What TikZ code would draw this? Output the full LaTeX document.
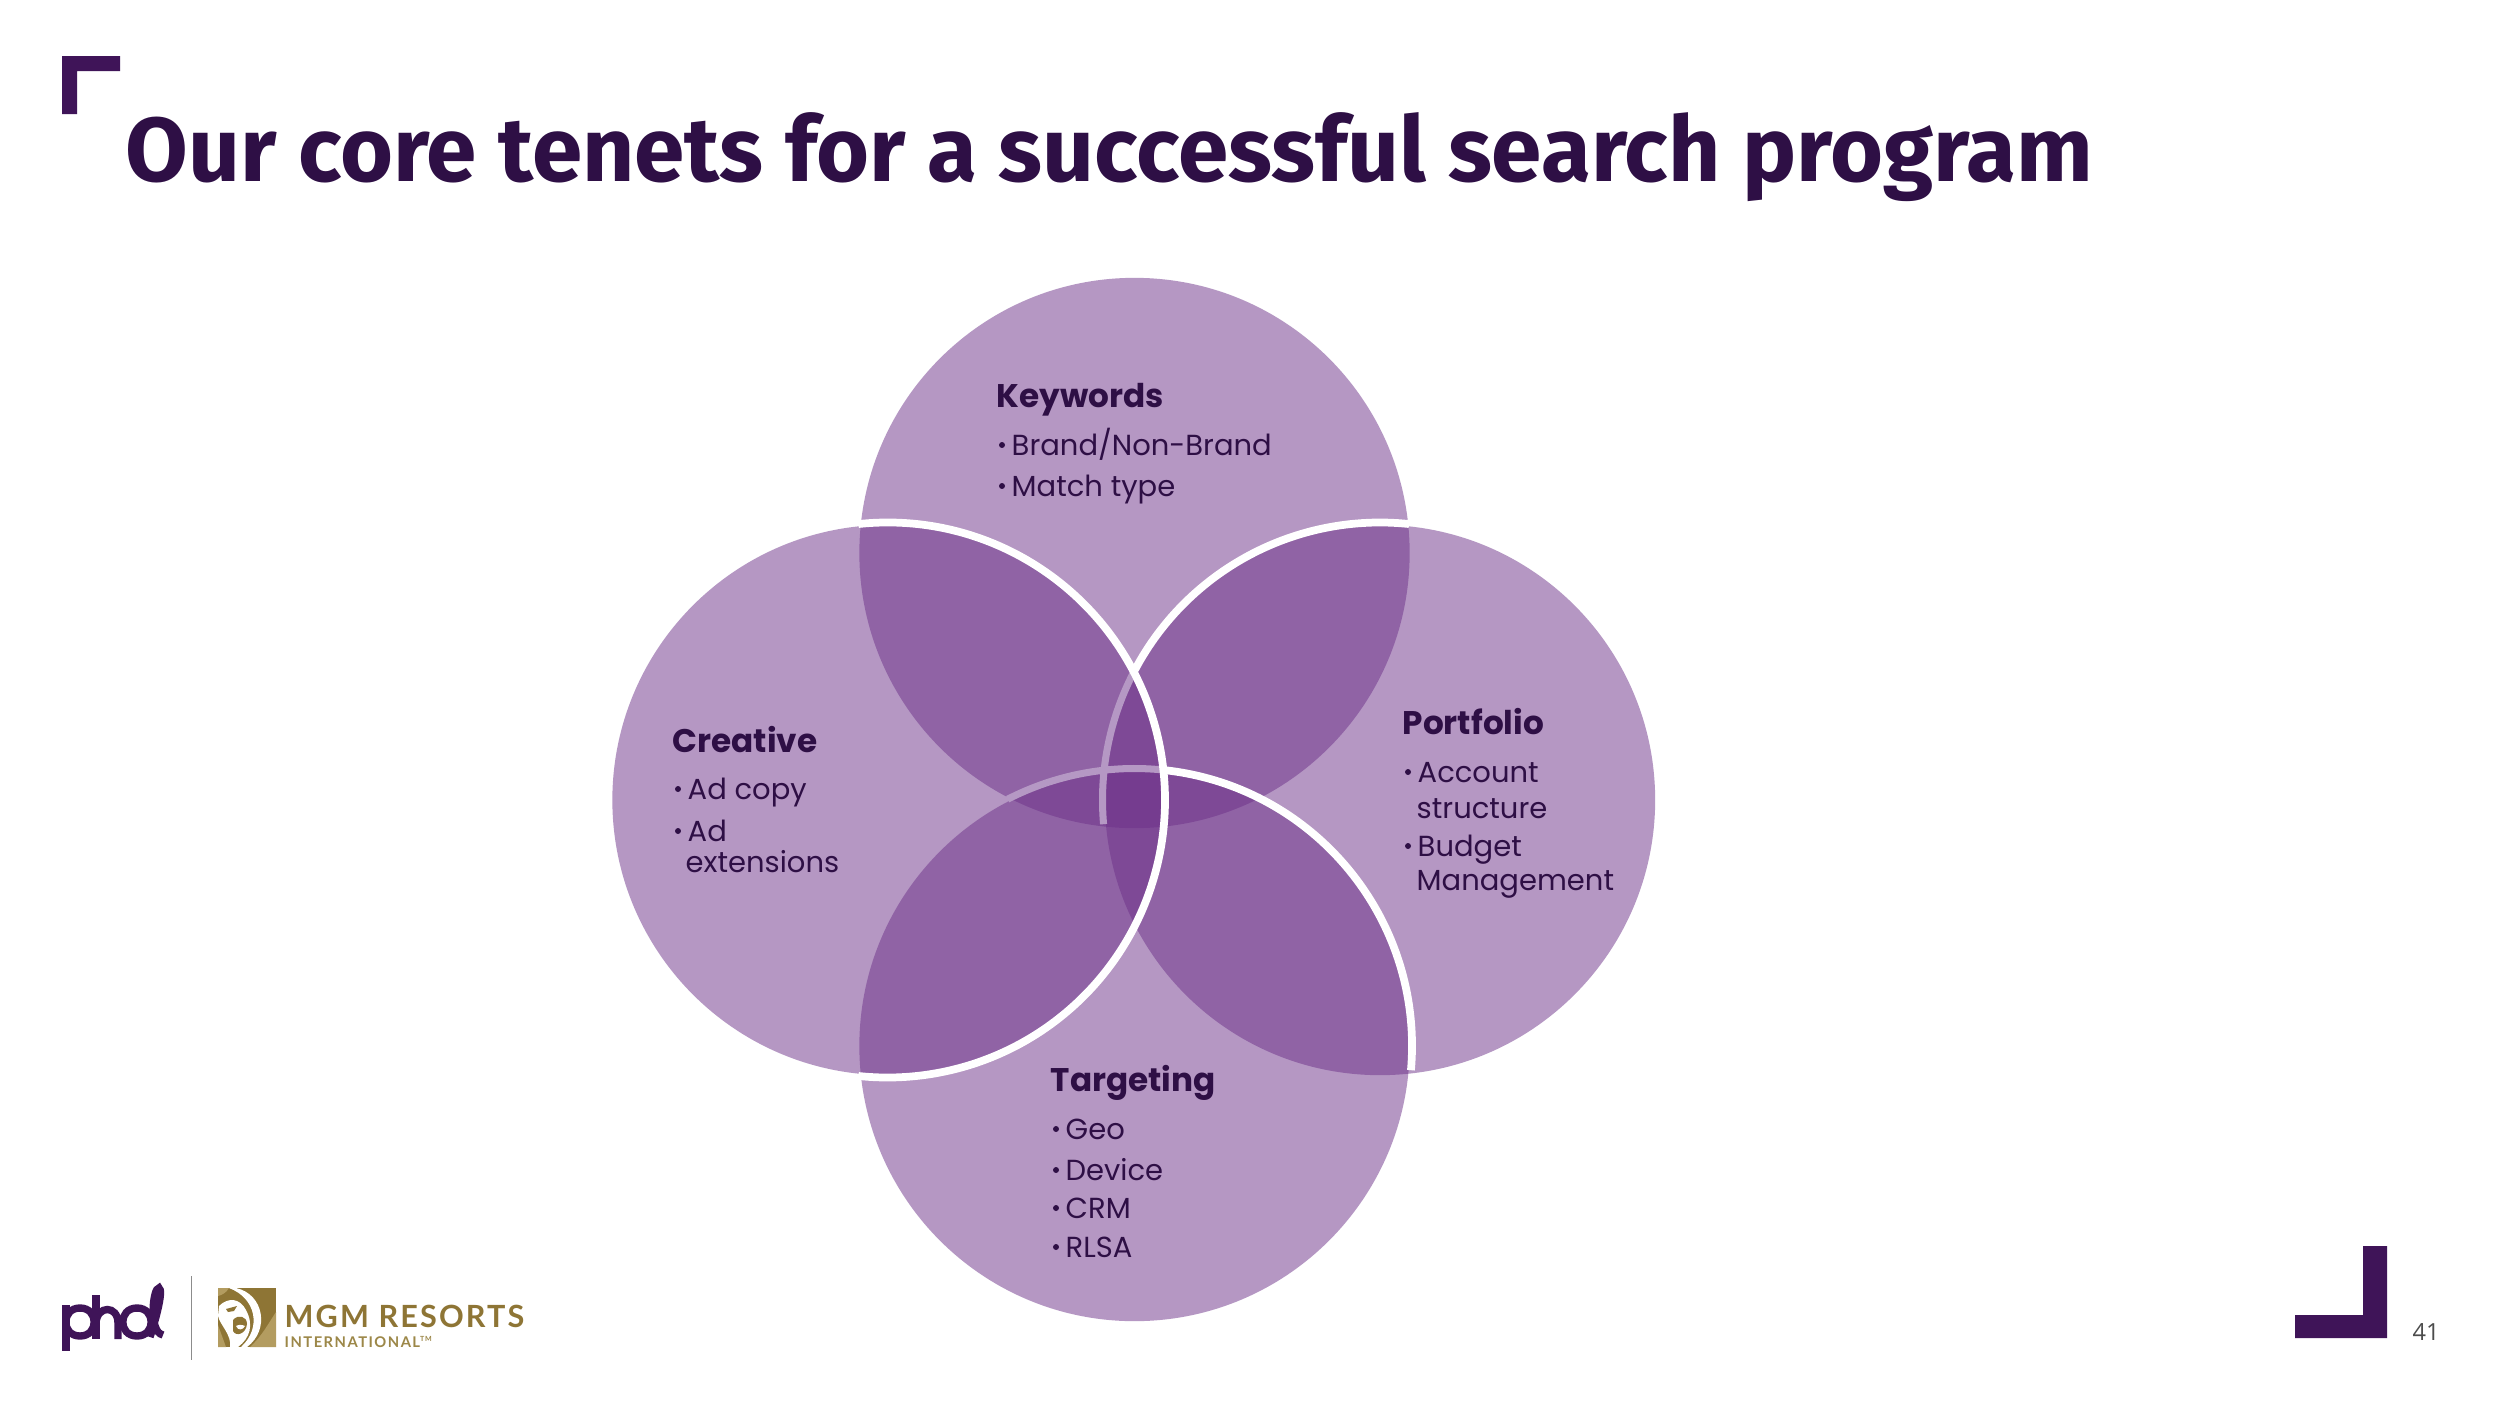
\documentclass[tikz,border=0pt]{standalone}
\usepackage{fontspec}
\setmainfont{Poppins}
\newfontfamily\titlefont{Fira Sans}
\newfontfamily\numfont{Open Sans}
\newfontfamily\mgmfont{Lato}[LetterSpace=7]
\newfontfamily\intlfont{Lato}[LetterSpace=10]
\definecolor{ink}{HTML}{2E0F45}
\definecolor{brand}{HTML}{3F1458}
\definecolor{venn}{RGB}{109,49,137}
\definecolor{lightvenn}{HTML}{B598C4}
\definecolor{gold}{HTML}{8E7535}
\definecolor{goldlight}{HTML}{B39C60}
\definecolor{goldtext}{HTML}{9C8748}
\tikzset{
  vennc/.style={circle,minimum size=5.5cm,inner sep=0pt,fill=venn,fill opacity=0.5,draw=none},
  ringw/.style={draw=white,line width=2.2pt},
  ringl/.style={draw=lightvenn,line width=2pt},
  head/.style={anchor=base west,inner sep=0pt,font=\fontsize{9.3}{12}\selectfont\bfseries,text=ink},
  item/.style={anchor=base west,inner sep=0pt,font=\fontsize{8.25}{11}\selectfont,text=ink},
  dot/.style={circle,fill=ink,minimum size=1.7pt,inner sep=0pt},
}
\begin{document}
\begin{tikzpicture}[x=0.01cm,y=-0.01cm]
\useasboundingbox (0,0) rectangle (2500,1406);
\fill[white] (0,0) rectangle (2500,1406);
% circles
\node[vennc] (top) at (1134.5,553) {};
\node[vennc] (left) at (887.5,800) {};
\node[vennc] (right) at (1380,800) {};
\node[vennc] (bottom) at (1134.5,1046) {};
% strokes
\draw[ringl] ([shift={(208:277.5)}]right.center) arc[start angle=208,end angle=175,radius=277.5];
\draw[ringl] ([shift={(242.8:277.5)}]bottom.center) arc[start angle=242.8,end angle=276,radius=277.5];
\draw[ringw] ([shift={(208:277.5)}]right.center) arc[start angle=208,end angle=276,radius=277.5];
\draw[ringw] ([shift={(275.7:277.5)}]bottom.center) arc[start angle=275.7,end angle=365,radius=277.5];
\draw[ringw] ([shift={(-96:277.5)}]left.center) arc[start angle=-96,end angle=96,radius=277.5];
% title
\node[anchor=base west,inner sep=0pt,text=ink,font=\titlefont\fontsize{25.83}{30}\selectfont\bfseries] (title) at (125,181) {Our core tenets for a successful search program};
% brackets
\fill[brand] (62,56) -- (120,56) -- (120,71) -- (77,71) -- (77,114) -- (62,114) -- cycle;
\fill[brand] (2387,1246) -- (2387,1338) -- (2295,1338) -- (2295,1315) -- (2363,1315) -- (2363,1246) -- cycle;
\node[anchor=base west,inner sep=0pt,text=black!70,font=\numfont\fontsize{6.7}{7}\selectfont] (page) at (2412,1340) {41};
% Keywords
\node[head] (kw) at (996,407) {Keywords};
\node[dot] (kwd1) at (1002,445) {}; \node[item] (kw1) at (1011,455) {Brand/Non-Brand};
\node[dot] (kwd2) at (1002,486) {}; \node[item] (kw2) at (1011,496) {Match type};
% Creative
\node[head] (cr) at (672,752) {Creative};
\node[dot] (crd1) at (678,789) {}; \node[item] (cr1) at (687,799) {Ad copy};
\node[dot] (crd2) at (678,831) {}; \node[item] (cr2) at (687,841) {Ad};
\node[item] (cr3) at (685,872) {extensions};
% Portfolio
\node[head] (pf) at (1402,734) {Portfolio};
\node[dot] (pfd1) at (1408,772) {}; \node[item] (pf1) at (1417,782) {Account};
\node[item] (pf2) at (1416,818) {structure};
\node[dot] (pfd2) at (1408,846) {}; \node[item] (pf3) at (1417,856) {Budget};
\node[item] (pf4) at (1416,890) {Management};
% Targeting
\node[head] (tg) at (1050,1091) {Targeting};
\node[dot] (tgd1) at (1056,1129) {}; \node[item] (tg1) at (1065,1139) {Geo};
\node[dot] (tgd2) at (1056,1170) {}; \node[item] (tg2) at (1065,1180) {Device};
\node[dot] (tgd3) at (1056,1208) {}; \node[item] (tg3) at (1065,1218) {CRM};
\node[dot] (tgd4) at (1056,1247) {}; \node[item] (tg4) at (1065,1257) {RLSA};
% phd logo
\begin{scope}[brand,line width=2.1pt,line cap=butt]
\draw (66,1305) -- (66,1351);
\draw (80,1308) .. controls (99,1308) and (99,1336) .. (80,1336) .. controls (61,1336) and (61,1308) .. (80,1308) -- cycle;
\draw (96,1295) -- (96,1339);
\draw (96,1323) .. controls (97,1305) and (118,1305) .. (118,1323) -- (118,1339);
\draw (137,1308) .. controls (156,1308) and (156,1336) .. (137,1336) .. controls (118,1336) and (118,1308) .. (137,1308) -- cycle;
\draw (150,1337) .. controls (155,1322) and (164,1290) .. (159,1288) .. controls (153,1287) and (148,1332) .. (163,1335);
\end{scope}
\draw[black!45,line width=0.35pt] (191.5,1276) -- (191.5,1360);
% lion mark
\fill[gold] (218,1288) rectangle (276,1347);
\fill[goldlight] (276,1312) -- (276,1347) -- (250,1347) .. controls (262,1336) and (268,1324) .. (276,1312) -- cycle;
\fill[white] (236,1288) .. controls (264,1294) and (270,1330) .. (247,1347) -- (241,1347) .. controls (262,1328) and (256,1298) .. (229,1288) -- cycle;
\fill[white] (219,1306) .. controls (228,1297) and (240,1298) .. (246,1310) .. controls (254,1325) and (250,1338) .. (238,1347) -- (230,1347) .. controls (232,1335) and (220,1325) .. (218,1316) -- cycle;
\fill[goldlight] (218,1288) -- (229,1288) .. controls (226,1293) and (222,1295) .. (218,1296) -- cycle;
\fill[gold] (233,1320) .. controls (238,1314) and (247,1316) .. (247,1324) .. controls (246,1334) and (236,1337) .. (233,1331) -- cycle;
\fill[white] (236,1326) .. controls (239,1324) and (243,1325) .. (245,1326) .. controls (243,1330) and (238,1331) .. (236,1326) -- cycle;
\fill[goldlight] (218,1325) -- (226,1347) -- (218,1347) -- cycle;
\fill[gold] (226,1309) -- (237,1306) -- (234,1311) -- (228,1312) -- cycle;
% MGM text
\node[anchor=base west,inner sep=0pt,text=gold,font=\mgmfont\fontsize{8.7}{10}\selectfont\bfseries] (mgm) at (284,1327) {MGM RESORTS};
\node[anchor=base west,inner sep=0pt,text=goldtext,font=\intlfont\fontsize{4.2}{5}\selectfont\bfseries] (intl) at (284,1347) {INTERNATIONAL\raisebox{1.7pt}{\fontsize{2}{2}\selectfont TM}};
\end{tikzpicture}
\end{document}
